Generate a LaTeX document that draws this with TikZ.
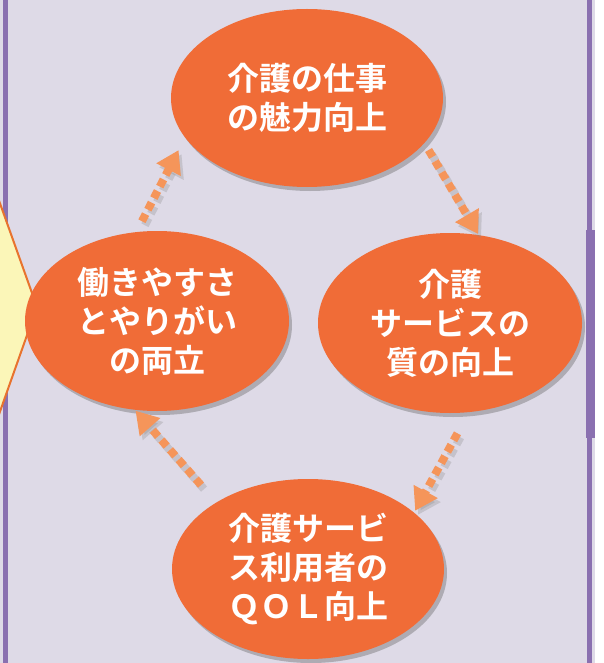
\documentclass[tikz,border=0pt]{standalone}
\usepackage{fontspec}
\newfontfamily\cjk{Noto Sans CJK JP Bold}
\usetikzlibrary{arrows.meta,shapes.geometric,shadows}
\definecolor{bg}{HTML}{DEDAE7}
\definecolor{purp}{HTML}{8A70B0}
\definecolor{ora}{HTML}{F06C37}
\definecolor{arrc}{HTML}{F5955A}
\definecolor{yel}{HTML}{FBF6B8}
\definecolor{yelb}{HTML}{E8732E}
\tikzset{
  bubble/.style={ellipse, fill=ora, inner sep=0pt, text=white, align=center,
    font=\cjk\fontsize{32}{39}\selectfont,
    drop shadow={shadow xshift=3pt, shadow yshift=-4pt, opacity=0.4, fill=black!60}},
  arr/.style={draw=arrc, line width=8pt, dash pattern=on 8pt off 5pt,
    -{Triangle[width=26pt,length=22pt,fill=arrc]}},
  arrsh/.style={arr, draw=black!45, opacity=0.3,
    -{Triangle[width=26pt,length=22pt,fill=black!45]},
    transform canvas={xshift=3pt,yshift=-4pt}}
}
\begin{document}
\begin{tikzpicture}[x=1pt,y=-1pt]
\useasboundingbox (0,0) rectangle (604,663);
\fill[white] (0,0) rectangle (604,663);
\fill[bg] (0,0) rectangle (595,663);
\fill[purp] (3,0) rectangle (8,663);
\fill[purp] (587,0) rectangle (592,663);
\fill[purp] (586,230) rectangle (595,438);
\draw[yelb, line width=2pt, fill=yel] (-3,195) -- (37,307) -- (-3,420);

\node[bubble, minimum width=272pt, minimum height=178pt] (top) at (307,98) {介護の仕事\\の魅力向上};
\node[bubble, minimum width=264pt, minimum height=180pt] (left) at (157,321) {働きやすさ\\とやりがい\\の両立};
\node[bubble, minimum width=264pt, minimum height=180pt] (right) at (450,323) {介護\\サービスの\\質の向上};
\node[bubble, minimum width=272pt, minimum height=180pt] (bot) at (308,569) {介護サービ\\ス利用者の\\ＱＯＬ向上};

\foreach \s in {arrsh,arr}{
  \draw[\s, shorten <=12pt, shorten >=14pt] (left.103) -- (top.198);
  \draw[\s, shorten <=8pt, shorten >=1pt] (top.339) -- (right.72);
  \draw[\s, shorten <=24pt, shorten >=2pt] (right.282) -- (bot.28);
  \draw[\s, shorten <=23pt, shorten >=1pt] (bot.144) -- (left.256);
}
\end{tikzpicture}
\end{document}
